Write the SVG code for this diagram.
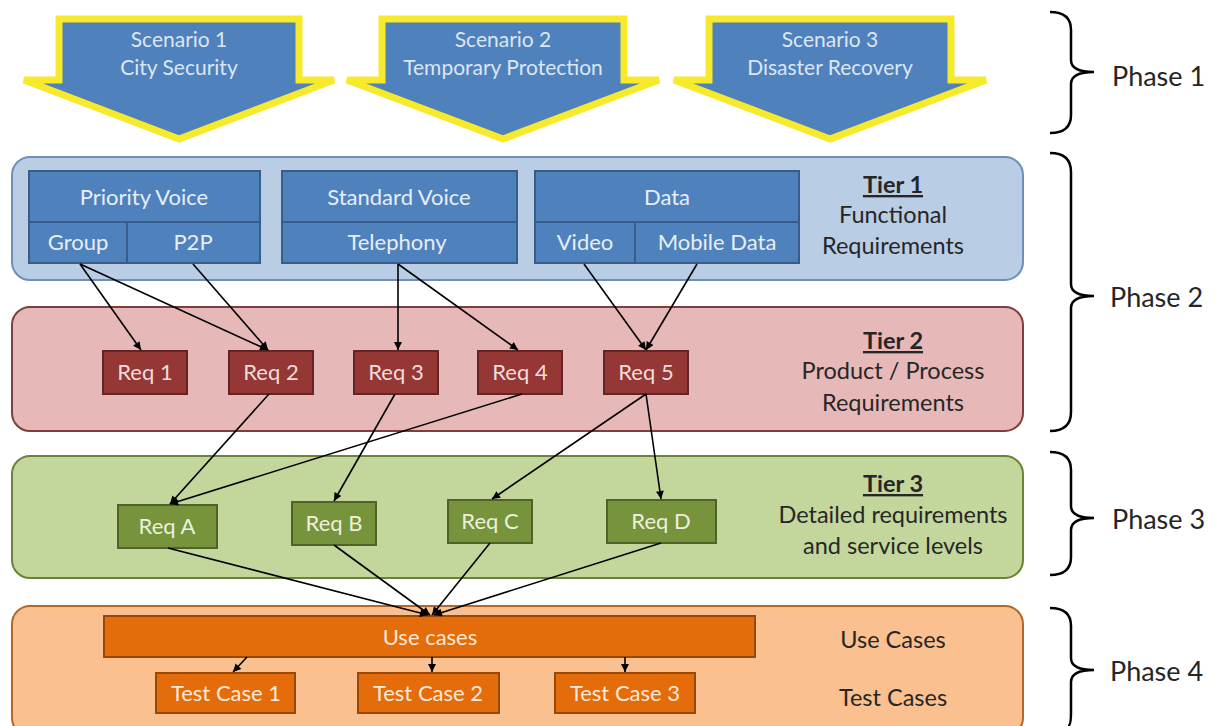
<svg xmlns="http://www.w3.org/2000/svg" width="1215" height="726" viewBox="0 0 1215 726">
  <defs>
    <marker id="arrow" viewBox="0 0 10 10" refX="10" refY="5" markerWidth="9" markerHeight="8" markerUnits="userSpaceOnUse" orient="auto">
      <path d="M0,0 L10,5 L0,10 z" fill="#000"/>
    </marker>
    <style>
      text { font-family: Lato, "Open Sans", "Liberation Sans", sans-serif; text-anchor: middle; }
      .scenario { fill: #4f81bd; stroke: #f7ea2c; stroke-width: 7; stroke-linejoin: miter; }
      .scen-t { fill: #dce6f2; font-size: 21px; }
      .tier1 { fill: #b9cde5; stroke: #6f8fb8; stroke-width: 2; }
      .tier2 { fill: #e6b9b8; stroke: #7f3f3e; stroke-width: 2; }
      .tier3 { fill: #c3d69b; stroke: #6b8237; stroke-width: 2; }
      .tier4 { fill: #fac090; stroke: #b0682d; stroke-width: 2; }
      .blue { fill: #4f81bd; stroke: #385d8a; stroke-width: 2; }
      .red { fill: #953735; stroke: #632523; stroke-width: 2; }
      .green { fill: #77933c; stroke: #4f6228; stroke-width: 2; }
      .orange { fill: #e46c0a; stroke: #984807; stroke-width: 2; }
      .box-t { font-size: 22px; }
      .blue-t { fill: #e6eef8; }
      .red-t { fill: #f2dcdb; }
      .green-t { fill: #ebf1de; }
      .orange-t { fill: #fde9d9; }
      .side { fill: #262626; font-size: 23.5px; }
      .head { font-weight: bold; text-decoration: underline; }
      .phase { fill: #262626; font-size: 27px; text-anchor: start; }
      .brace { fill: none; stroke: #000; stroke-width: 2.5; }
      .conn { fill: none; stroke: #000; stroke-width: 1.6; marker-end: url(#arrow); }
    </style>
  </defs>
  <rect width="1215" height="726" fill="#ffffff"/>

  <!-- Scenario arrows -->
  <g id="scenario-1">
    <polygon class="scenario" points="59,19 299,19 299,80 334,80 179,139 24,80 59,80"/>
    <text class="scen-t" x="179" y="47">Scenario 1</text>
    <text class="scen-t" x="179" y="75">City Security</text>
  </g>
  <g id="scenario-2">
    <polygon class="scenario" points="382,19 624,19 624,80 659,80 503,139 347,80 382,80"/>
    <text class="scen-t" x="503" y="47">Scenario 2</text>
    <text class="scen-t" x="503" y="75">Temporary Protection</text>
  </g>
  <g id="scenario-3">
    <polygon class="scenario" points="709,19 951,19 951,80 986,80 830,139 674,80 709,80"/>
    <text class="scen-t" x="830" y="47">Scenario 3</text>
    <text class="scen-t" x="830" y="75">Disaster Recovery</text>
  </g>

  <!-- Tier panels -->
  <g id="tier-1">
    <rect class="tier1" x="12" y="157" width="1011" height="123" rx="18"/>
    <text class="side head" x="893" y="193">Tier 1</text>
    <text class="side" x="893" y="223">Functional</text>
    <text class="side" x="893" y="254">Requirements</text>
  </g>
  <g id="tier-2">
    <rect class="tier2" x="12" y="307" width="1011" height="124" rx="18"/>
    <text class="side head" x="893" y="349">Tier 2</text>
    <text class="side" x="893" y="379">Product / Process</text>
    <text class="side" x="893" y="411">Requirements</text>
  </g>
  <g id="tier-3">
    <rect class="tier3" x="12" y="456" width="1011" height="122" rx="18"/>
    <text class="side head" x="893" y="492">Tier 3</text>
    <text class="side" x="893" y="523">Detailed requirements</text>
    <text class="side" x="893" y="554">and service levels</text>
  </g>
  <g id="tier-4">
    <rect class="tier4" x="12" y="606" width="1011" height="130" rx="18"/>
    <text class="side" x="893" y="648">Use Cases</text>
    <text class="side" x="893" y="706">Test Cases</text>
  </g>

  <!-- Tier 1 functional blocks -->
  <g id="priority-voice">
    <rect class="blue" x="29" y="171" width="231" height="51"/>
    <text class="box-t blue-t" x="144" y="205">Priority Voice</text>
  </g>
  <g id="group">
    <rect class="blue" x="29" y="222" width="98" height="41"/>
    <text class="box-t blue-t" x="78" y="250">Group</text>
  </g>
  <g id="p2p">
    <rect class="blue" x="127" y="222" width="133" height="41"/>
    <text class="box-t blue-t" x="193" y="250">P2P</text>
  </g>
  <g id="standard-voice">
    <rect class="blue" x="282" y="171" width="235" height="51"/>
    <text class="box-t blue-t" x="399" y="205">Standard Voice</text>
  </g>
  <g id="telephony">
    <rect class="blue" x="282" y="222" width="235" height="41"/>
    <text class="box-t blue-t" x="397" y="250">Telephony</text>
  </g>
  <g id="data">
    <rect class="blue" x="535" y="171" width="264" height="51"/>
    <text class="box-t blue-t" x="667" y="205">Data</text>
  </g>
  <g id="video">
    <rect class="blue" x="535" y="222" width="100" height="41"/>
    <text class="box-t blue-t" x="585" y="250">Video</text>
  </g>
  <g id="mobile-data">
    <rect class="blue" x="635" y="222" width="164" height="41"/>
    <text class="box-t blue-t" x="717" y="250">Mobile Data</text>
  </g>

  <!-- Tier 2 requirements -->
  <g id="req-1">
    <rect class="red" x="103" y="351" width="84" height="43"/>
    <text class="box-t red-t" x="145" y="380">Req 1</text>
  </g>
  <g id="req-2">
    <rect class="red" x="229" y="351" width="84" height="43"/>
    <text class="box-t red-t" x="271" y="380">Req 2</text>
  </g>
  <g id="req-3">
    <rect class="red" x="354" y="351" width="84" height="43"/>
    <text class="box-t red-t" x="396" y="380">Req 3</text>
  </g>
  <g id="req-4">
    <rect class="red" x="478" y="351" width="84" height="43"/>
    <text class="box-t red-t" x="520" y="380">Req 4</text>
  </g>
  <g id="req-5">
    <rect class="red" x="604" y="351" width="84" height="43"/>
    <text class="box-t red-t" x="646" y="380">Req 5</text>
  </g>

  <!-- Tier 3 requirements -->
  <g id="req-a">
    <rect class="green" x="118" y="505" width="99" height="43"/>
    <text class="box-t green-t" x="167" y="534">Req A</text>
  </g>
  <g id="req-b">
    <rect class="green" x="292" y="502" width="84" height="43"/>
    <text class="box-t green-t" x="334" y="531">Req B</text>
  </g>
  <g id="req-c">
    <rect class="green" x="448" y="500" width="84" height="43"/>
    <text class="box-t green-t" x="490" y="529">Req C</text>
  </g>
  <g id="req-d">
    <rect class="green" x="607" y="500" width="109" height="43"/>
    <text class="box-t green-t" x="661" y="529">Req D</text>
  </g>

  <!-- Tier 4 use and test cases -->
  <g id="use-cases">
    <rect class="orange" x="104" y="616" width="651" height="41"/>
    <text class="box-t orange-t" x="430" y="645">Use cases</text>
  </g>
  <g id="test-case-1">
    <rect class="orange" x="156" y="673" width="139" height="40"/>
    <text class="box-t orange-t" x="226" y="701">Test Case 1</text>
  </g>
  <g id="test-case-2">
    <rect class="orange" x="358" y="673" width="141" height="40"/>
    <text class="box-t orange-t" x="428" y="701">Test Case 2</text>
  </g>
  <g id="test-case-3">
    <rect class="orange" x="555" y="673" width="140" height="40"/>
    <text class="box-t orange-t" x="625" y="701">Test Case 3</text>
  </g>

  <!-- Connectors between tiers -->
  <g id="connectors">
    <line class="conn" x1="80" y1="264" x2="141" y2="350"/>
    <line class="conn" x1="80" y1="264" x2="268" y2="350"/>
    <line class="conn" x1="193" y1="264" x2="268" y2="350"/>
    <line class="conn" x1="398" y1="264" x2="398" y2="350"/>
    <line class="conn" x1="398" y1="264" x2="518" y2="350"/>
    <line class="conn" x1="584" y1="264" x2="646" y2="350"/>
    <line class="conn" x1="697" y1="264" x2="646" y2="350"/>
    <line class="conn" x1="269" y1="394" x2="170" y2="504"/>
    <line class="conn" x1="522" y1="394" x2="170" y2="504"/>
    <line class="conn" x1="395" y1="394" x2="334" y2="501"/>
    <line class="conn" x1="646" y1="394" x2="492" y2="499"/>
    <line class="conn" x1="646" y1="394" x2="661" y2="499"/>
    <line class="conn" x1="168" y1="548" x2="428" y2="615"/>
    <line class="conn" x1="334" y1="545" x2="430" y2="615"/>
    <line class="conn" x1="490" y1="543" x2="432" y2="615"/>
    <line class="conn" x1="661" y1="543" x2="434" y2="615"/>
    <line class="conn" x1="247" y1="657" x2="233" y2="672"/>
    <line class="conn" x1="432" y1="657" x2="432" y2="672"/>
    <line class="conn" x1="625" y1="657" x2="625" y2="672"/>
  </g>

  <!-- Phase braces -->
  <g id="phase-1">
    <path class="brace" d="M1050,12 Q1071,12 1071,30 L1071,60 Q1071,72 1094,72 Q1071,72 1071,84 L1071,115 Q1071,133 1050,133"/>
    <text class="phase" x="1112" y="86">Phase 1</text>
  </g>
  <g id="phase-2">
    <path class="brace" d="M1050,153 Q1071,153 1071,172 L1071,284 Q1071,296 1094,296 Q1071,296 1071,308 L1071,412 Q1071,431 1050,431"/>
    <text class="phase" x="1110" y="307">Phase 2</text>
  </g>
  <g id="phase-3">
    <path class="brace" d="M1050,452 Q1071,452 1071,470 L1071,506 Q1071,518 1094,518 Q1071,518 1071,530 L1071,557 Q1071,575 1050,575"/>
    <text class="phase" x="1112" y="529">Phase 3</text>
  </g>
  <g id="phase-4">
    <path class="brace" d="M1050,608 Q1071,608 1071,626 L1071,658 Q1071,670 1094,670 Q1071,670 1071,682 L1071,712 Q1071,726 1068,726"/>
    <text class="phase" x="1110" y="681">Phase 4</text>
  </g>
</svg>
